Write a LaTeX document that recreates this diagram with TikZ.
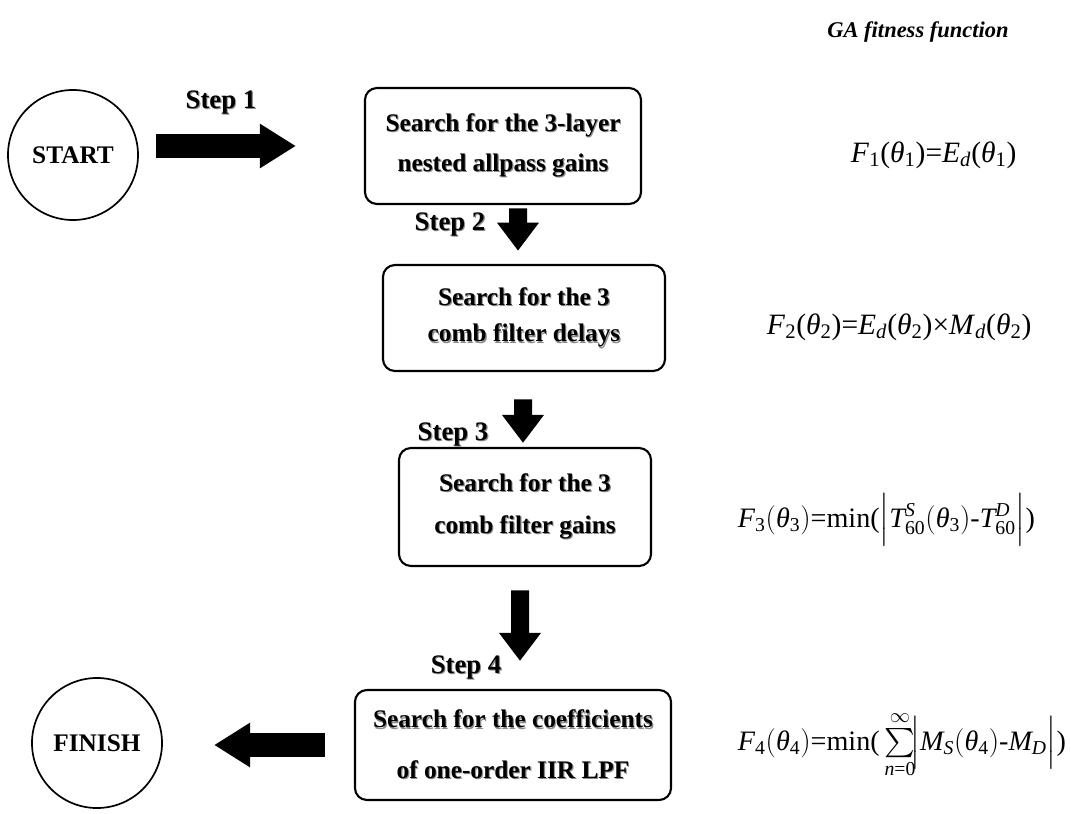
\documentclass[tikz,border=0pt]{standalone}
\usepackage{amsmath}
\usepackage{fontspec}
\setmainfont{Liberation Serif}
\usetikzlibrary{arrows.meta,positioning}

\newcommand{\iv}[1]{\textit{#1}}
\newcommand{\shd}[1]{\makebox[0pt][l]{\hspace{0.8pt}\raisebox{-0.8pt}{\textcolor{black!45}{#1}}}#1}

\begin{document}
\begin{tikzpicture}[x=0.025cm,y=-0.025cm,
stepbox/.style={draw, line width=1.5pt, rounded corners=0.3cm, align=center, font=\fontsize{18}{26}\selectfont\bfseries},
endpoint/.style={draw, circle, line width=1.2pt, minimum size=3.25cm, font=\fontsize{18}{20}\selectfont\bfseries},
steplabel/.style={font=\fontsize{19}{22}\selectfont\bfseries},
fitness/.style={font=\fontsize{20}{24}\selectfont, anchor=west},
bigarrow/.style={line width=0.6cm, -{Triangle[length=0.9cm, width=1.05cm]}},
downarrow/.style={line width=0.45cm, -{Triangle[length=0.7cm, width=1.0cm]}},
]
\useasboundingbox (0,0) rectangle (1071,814);

% start and finish
\node (start) [endpoint] at (73,155) {START};
\node (finish) [endpoint] at (97,743) {FINISH};

% the four searches
\node (s1) [stepbox, minimum width=6.9cm, minimum height=2.9cm] at (503,146)
  {\shd{Search for the 3-layer}\\[2pt] \shd{nested allpass gains}};
\node (s2) [stepbox, minimum width=7.05cm, minimum height=2.65cm] at (524,318)
  {\shd{Search for the 3}\\ \shd{comb filter delays}};
\node (s3) [stepbox, minimum width=6.3cm, minimum height=2.95cm] at (525,507)
  {\shd{Search for the 3}\\[4pt] \shd{comb filter gains}};
\node (s4) [stepbox, minimum width=7.9cm, minimum height=2.75cm] at (513,745)
  {\shd{Search for the coefficients}\\[10pt] \shd{of one-order IIR LPF}};

% arrows
\draw[bigarrow, shorten <=0.43cm, shorten >=1.7cm] (start.east |- s1) -- (s1.west);
\draw[downarrow, shorten <=0.08cm, shorten >=0.33cm] ([xshift=0.375cm]s1.south) -- ([xshift=-0.15cm]s2.north);
\draw[downarrow, shorten <=0.68cm, shorten >=0.1cm] ([xshift=-0.025cm]s2.south) -- ([xshift=-0.05cm]s3.north);
\draw[downarrow, shorten <=0.58cm, shorten >=0.7cm] ([xshift=-0.125cm]s3.south) -- ([xshift=0.175cm]s4.north);
\draw[bigarrow, shorten <=0.73cm, shorten >=1.28cm] (s4.west) -- (s4.west -| finish.east);

% step labels
\node (l1) [steplabel] at (221,103) {\shd{Step 1}};
\node (l2) [steplabel] at (450,225) {\shd{Step 2}};
\node (l3) [steplabel] at (453,435) {\shd{Step 3}};
\node (l4) [steplabel] at (466,668) {\shd{Step 4}};

% fitness functions
\node (ga) [font=\fontsize{16}{18}\selectfont\bfseries\itshape] at (918,32) {GA fitness function};
\node (f1) [fitness, font=\fontsize{21}{24}\selectfont] at (846,155)
  {\iv{F}\textsubscript{1}(\iv{θ}\textsubscript{1})=\iv{E}\textsubscript{\iv{d}}(\iv{θ}\textsubscript{1})};
\node (f2) [fitness, font=\fontsize{21}{24}\selectfont] at (762,327)
  {\iv{F}\textsubscript{2}(\iv{θ}\textsubscript{2})=\iv{E}\textsubscript{\iv{d}}(\iv{θ}\textsubscript{2})×\iv{M}\textsubscript{\iv{d}}(\iv{θ}\textsubscript{2})};
\node (f3) [fitness] at (733,520)
  {$\iv{F}_{\text{3}}(\iv{θ}_{\text{3}})\text{=}\text{min}\text{(}\Bigl|\iv{T}^{\iv{S}}_{\text{60}}(\iv{θ}_{\text{3}})\text{-}\iv{T}^{\iv{D}}_{\text{60}}\Bigr|\text{)}$};
\node (f4) [fitness] at (733,745)
  {$\iv{F}_{\text{4}}(\iv{θ}_{\text{4}})\text{=}\text{min}\text{(}\sum\limits_{\iv{n}\text{=0}}^{\infty}\!\Bigl|\iv{M}_{\iv{S}}(\iv{θ}_{\text{4}})\text{-}\iv{M}_{\iv{D}}\Bigr|\text{)}$};

\end{tikzpicture}
\end{document}
